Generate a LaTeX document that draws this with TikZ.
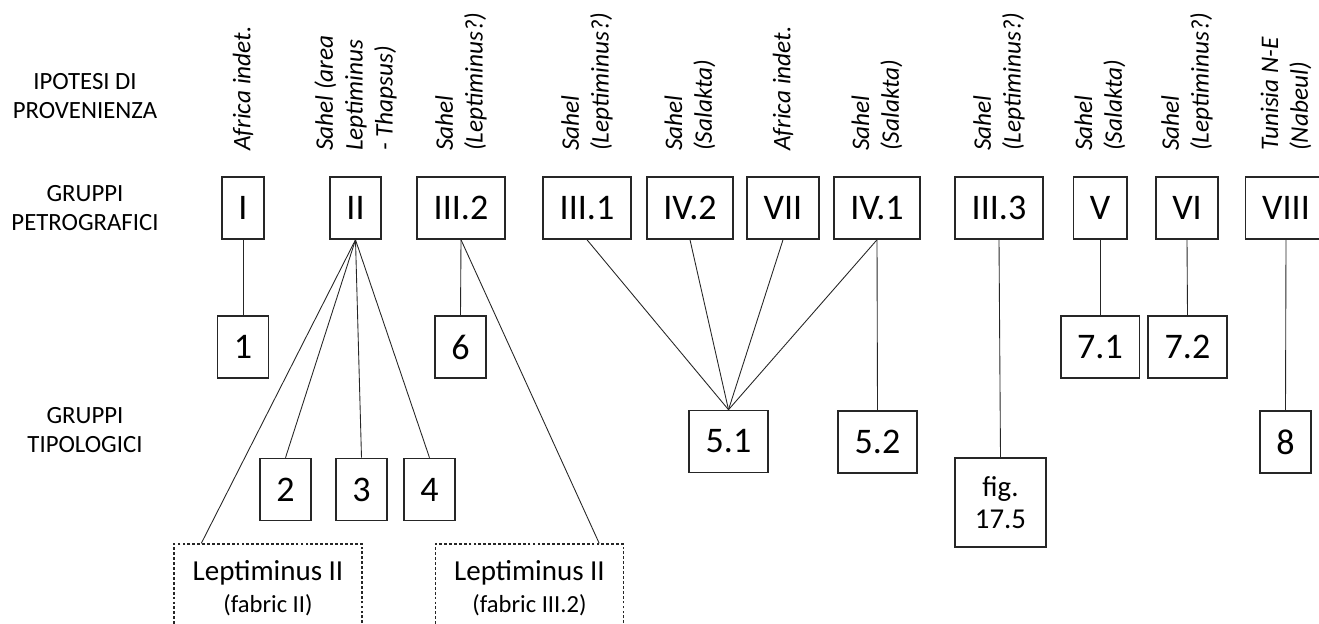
\documentclass[tikz,border=0pt]{standalone}
\usepackage{fontspec}
\setmainfont{Carlito}
\usepackage{tikz}

\begin{document}
\begin{tikzpicture}[x=0.02cm,y=-0.02cm,
  petro/.style={draw=black!85,line width=0.9pt,inner xsep=0.33cm,minimum height=1.24cm,font=\fontsize{20.5}{24}\selectfont},
  tipo/.style={petro},
  fonte/.style={rotate=90,anchor=west,align=left,inner sep=0pt,font=\fontsize{14.4}{17}\selectfont\itshape},
  riga/.style={align=center,font=\fontsize{14.1}{16}\selectfont},
  fabric/.style={draw=black!85,line width=0.8pt,dash pattern=on 1.6pt off 1.2pt,minimum width=3.76cm,minimum height=1.76cm,align=center,font=\fontsize{16.5}{18.5}\selectfont},
  link/.style={black!85,line width=0.5pt}]
\useasboundingbox (0,0) rectangle (1319,624);
\clip (0,0) rectangle (1319,624);

% titoli delle righe
\node[riga] (ipotesi) at (85,96) {IPOTESI DI\\PROVENIENZA};
\node[riga] (petrografici) at (85,208) {GRUPPI\\PETROGRAFICI};
\node[riga] (tipologici) at (85,430) {GRUPPI\\TIPOLOGICI};

% gruppi petrografici e provenienza
\foreach \n/\x/\t/\s in {
  pI/243/I/{Africa indet.},
  pII/355.5/II/{Sahel (area\\Leptiminus\\- Thapsus)},
  pIIIb/461/III.2/{Sahel\\(Leptiminus?)},
  pIIIa/587/III.1/{Sahel\\(Leptiminus?)},
  pIVb/690/IV.2/{Sahel\\(Salakta)},
  pVII/783/VII/{Africa indet.},
  pIVa/877/IV.1/{Sahel\\(Salakta)},
  pIIIc/999/III.3/{Sahel\\(Leptiminus?)},
  pV/1100/V/{Sahel\\(Salakta)},
  pVI/1187/VI/{Sahel\\(Leptiminus?)},
  pVIII/1286/VIII/{Tunisia N-E\\(Nabeul)}}
{
\node[petro] (\n) at (\x,208) {\t};
\node[fonte] at ([yshift=0.5cm]\n.north) {\s};
}

% gruppi tipologici
\foreach \n/\x/\y/\t in {t1/243/347/1, t6/460.5/347/6, t2/285.5/489.5/2, t3/361.5/489.5/3,
  t4/429.5/489.5/4, t51/728.5/441.5/5.1, t52/877.5/442/5.2, t71/1100/347/7.1,
  t72/1187.5/347/7.2, t8/1285.5/442/8}
\node[tipo] (\n) at (\x,\y) {\t};
\node[tipo,minimum width=1.82cm,minimum height=1.78cm,align=center,font=\fontsize{16.4}{18.2}\selectfont] (fig) at (1000.5,502.5) {fig.\\17.5};
\node[fabric] (d1) at (268,588) {Leptiminus II\\{\fontsize{14}{15}\selectfont (fabric II)}};
\node[fabric] (d2) at (529.5,588) {Leptiminus II\\{\fontsize{14}{15}\selectfont (fabric III.2)}};

% collegamenti
\draw[link] (pI.south) -- (t1.north);
\foreach \t in {t2,t3,t4}
\draw[link] (pII.south) -- (\t.north);
\draw[link] (pII.south) -- ([xshift=0.56cm]d1.north west);
\draw[link] (pIIIb.south) -- (t6.north);
\draw[link] (pIIIb.south) -- ([xshift=-0.5cm]d2.north east);
\foreach \p in {pIIIa,pIVb,pVII,pIVa}
\draw[link] (\p.south) -- (t51.north);
\draw[link] (pIVa.south) -- (t52.north);
\draw[link] (pIIIc.south) -- (fig.north);
\draw[link] (pV.south) -- (t71.north);
\draw[link] (pVI.south) -- (t72.north);
\draw[link] (pVIII.south) -- (t8.north);
\end{tikzpicture}
\end{document}
